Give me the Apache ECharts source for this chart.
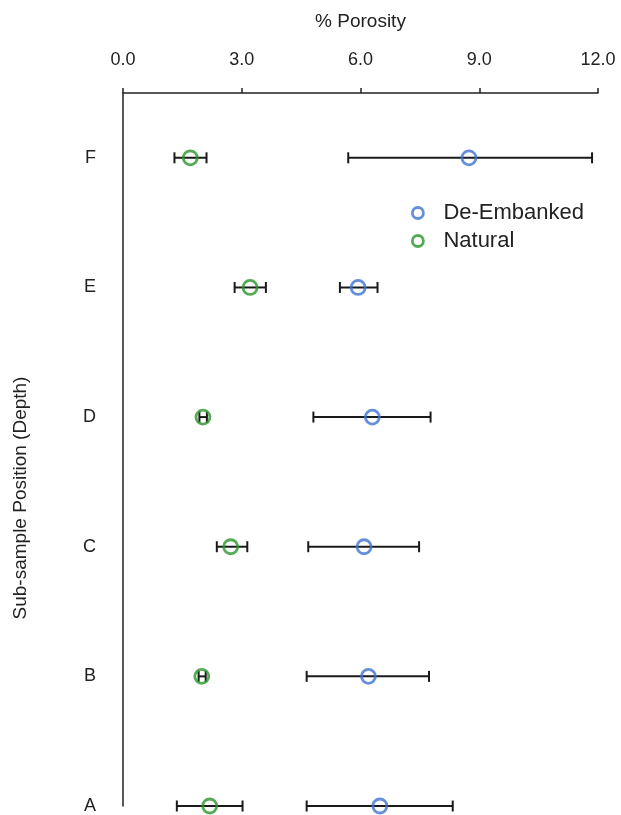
<!DOCTYPE html>
<html>
<head>
<meta charset="utf-8">
<title>% Porosity by Sub-sample Position</title>
<script src="https://cdn.jsdelivr.net/npm/echarts@6/dist/echarts.min.js"></script>
<style>
  html, body { margin: 0; padding: 0; background: #fff; }
  #chart { width: 621px; height: 815px; }
</style>
</head>
<body>
<div id="chart"></div>
<script>
// Sub-sample positions, bottom (A) to top (F)
const categories = ['A', 'B', 'C', 'D', 'E', 'F'];

// De-Embanked: mean porosity with lower / upper error bounds (%)
const deEmbMean = [6.49, 6.20, 6.09, 6.30, 5.94, 8.74];
const deEmbLow  = [4.64, 4.64, 4.68, 4.81, 5.48, 5.69];
const deEmbHigh = [8.33, 7.73, 7.48, 7.77, 6.43, 11.85];

// Natural: mean porosity with lower / upper error bounds (%)
const natMean = [2.19, 1.99, 2.72, 2.02, 3.21, 1.70];
const natLow  = [1.36, 1.91, 2.37, 1.93, 2.82, 1.30];
const natHigh = [3.02, 2.09, 3.14, 2.12, 3.61, 2.11];

const xTickLabels = ['0.0', '3.0', '6.0', '9.0', '12.0'];

const BLUE = '#3f74d0';
const GREEN = '#2a962a';
const INK = '#222';
const FONT = '"Liberation Sans", Arial, sans-serif';

const points = (vals) => vals.map((v, i) => [v, i]);
const ranges = (lo, hi) => lo.map((l, i) => [l, hi[i], i]);

// Horizontal error bar with end caps
function errorBar(params, api) {
  const y = api.value(2);
  const a = api.coord([api.value(0), y]);
  const b = api.coord([api.value(1), y]);
  const cap = 5.5;
  const style = { stroke: '#1a1a1a', lineWidth: 2 };
  return {
    type: 'group',
    children: [
      { type: 'line', shape: { x1: a[0], y1: a[1], x2: b[0], y2: b[1] }, style },
      { type: 'line', shape: { x1: a[0], y1: a[1] - cap, x2: a[0], y2: a[1] + cap }, style },
      { type: 'line', shape: { x1: b[0], y1: b[1] - cap, x2: b[0], y2: b[1] + cap }, style }
    ]
  };
}

const chart = echarts.init(document.getElementById('chart'), null, { renderer: 'canvas' });

chart.setOption({
  animation: false,
  backgroundColor: '#fff',
  textStyle: { fontFamily: FONT, color: INK },
  grid: { left: 123, right: 23, top: 93, bottom: 9, containLabel: false },
  legend: {
    orient: 'vertical',
    left: 406,
    top: 197,
    itemWidth: 11,
    itemHeight: 11,
    itemGap: 6,
    data: ['De-Embanked', 'Natural'],
    itemStyle: { borderWidth: 2.8 },
    textStyle: { fontSize: 22, color: INK, fontFamily: FONT, padding: [0, 0, 0, 15] }
  },
  xAxis: {
    type: 'value',
    position: 'top',
    min: 0,
    max: 12,
    interval: 3,
    name: '% Porosity',
    nameLocation: 'middle',
    nameGap: 62,
    nameTextStyle: { fontSize: 19, color: INK, fontFamily: FONT },
    axisLine: { show: true, onZero: false, lineStyle: { color: INK, width: 1.5 } },
    axisTick: { show: true, inside: false, length: 5, lineStyle: { color: INK, width: 1.5 } },
    axisLabel: {
      margin: 24,
      fontSize: 18,
      color: INK,
      fontFamily: FONT,
      formatter: (v) => xTickLabels[Math.round(v / 3)] ?? ''
    },
    splitLine: { show: false }
  },
  yAxis: {
    type: 'value',
    min: 0,
    max: 5.5,
    interval: 1,
    axisLine: { show: true, onZero: false, lineStyle: { color: INK, width: 1.5 } },
    axisTick: { show: false },
    axisLabel: {
      margin: 27,
      fontSize: 18,
      color: INK,
      fontFamily: FONT,
      formatter: (v) => (Number.isInteger(v) && categories[v]) ? categories[v] : ''
    },
    splitLine: { show: false }
  },
  graphic: [{
    type: 'text',
    x: 21,
    y: 498,
    rotation: Math.PI / 2,
    style: {
      text: 'Sub-sample Position (Depth)',
      font: '19px ' + FONT,
      fill: INK,
      align: 'center',
      verticalAlign: 'middle'
    }
  }],
  series: [
    {
      name: 'De-Embanked error',
      type: 'custom',
      renderItem: errorBar,
      encode: { x: [0, 1], y: 2 },
      data: ranges(deEmbLow, deEmbHigh),
      z: 1
    },
    {
      name: 'Natural error',
      type: 'custom',
      renderItem: errorBar,
      encode: { x: [0, 1], y: 2 },
      data: ranges(natLow, natHigh),
      z: 1
    },
    {
      name: 'De-Embanked',
      type: 'scatter',
      symbol: 'circle',
      symbolSize: 14,
      itemStyle: { color: 'rgba(255,255,255,0)', borderColor: BLUE, borderWidth: 2.8 },
      data: points(deEmbMean),
      z: 3
    },
    {
      name: 'Natural',
      type: 'scatter',
      symbol: 'circle',
      symbolSize: 14,
      itemStyle: { color: 'rgba(255,255,255,0)', borderColor: GREEN, borderWidth: 2.8 },
      data: points(natMean),
      z: 3
    }
  ]
});
</script>
</body>
</html>
